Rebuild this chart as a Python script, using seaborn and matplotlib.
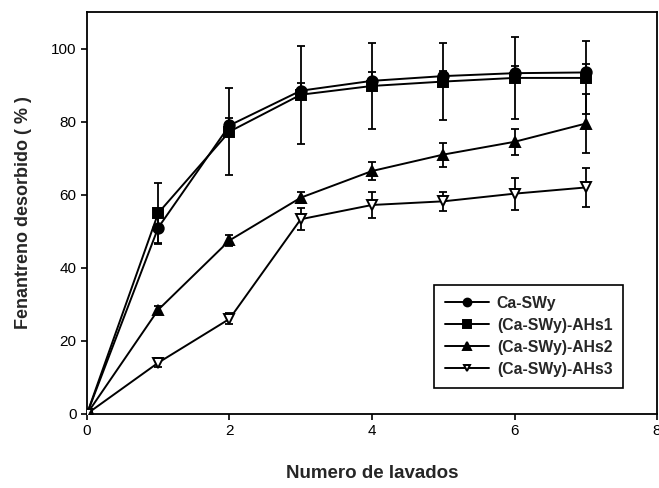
import numpy as np
import pandas as pd
import matplotlib
matplotlib.use("Agg")
import matplotlib.pyplot as plt
import seaborn as sns

sns.set_style("ticks")
plt.rcParams['font.family'] = ['Liberation Sans', 'DejaVu Sans']

lavados = [0, 1, 2, 3, 4, 5, 6, 7]
series_names = ["Ca-SWy", "(Ca-SWy)-AHs1", "(Ca-SWy)-AHs2", "(Ca-SWy)-AHs3"]
ca_swy = [0, 51, 79, 88.5, 91.2, 92.5, 93.3, 93.5]
ca_swy_err = [0, 4.4, 2.0, 2.2, 2.4, 1.5, 2.0, 2.3]
ahs1 = [0, 55, 77.3, 87.4, 89.8, 91.0, 92.0, 92.0]
ahs1_err = [0, 8.3, 12.0, 13.4, 11.7, 10.6, 11.2, 10.0]
ahs2 = [0, 28.5, 47.5, 59.2, 66.5, 71.0, 74.5, 79.5]
ahs2_err = [0, 1.0, 1.6, 1.5, 2.5, 3.3, 3.6, 8.0]
ahs3 = [0, 14.0, 26.0, 53.3, 57.2, 58.2, 60.3, 62.0]
ahs3_err = [0, 1.2, 1.5, 3.0, 3.5, 2.6, 4.4, 5.3]

values = [ca_swy, ahs1, ahs2, ahs3]
errors = [ca_swy_err, ahs1_err, ahs2_err, ahs3_err]
markers = ["o", "s", "^", "v"]
msizes = [7.5, 7.5, 7.5, 6.5]
facecolors = ["black", "black", "black", "white"]

fig = plt.figure(figsize=(6.59, 4.88), dpi=100)
ax = fig.add_axes([0.132, 0.152, 0.865, 0.823])

rows = []
for name, vals in zip(series_names, values):
    for x, v in zip(lavados, vals):
        rows.append({"x": x, "y": v, "serie": name})
df = pd.DataFrame(rows)

for name, vals, err, m, ms, fc in zip(series_names, values, errors, markers, msizes, facecolors):
    sub = df[df["serie"] == name]
    ax.errorbar(lavados, vals, yerr=err, fmt="none", ecolor="black",
                elinewidth=1.3, capsize=3, capthick=1.3, zorder=2)
    sns.lineplot(data=sub, x="x", y="y", ax=ax, color="black", linewidth=1.4,
                 marker=m, markersize=ms,
                 markerfacecolor=fc, markeredgecolor="black", markeredgewidth=1.4,
                 label=name, zorder=3, legend=True)

ax.set_xlim(0, 8)
ax.set_ylim(0, 110)
ax.set_xticks([0, 2, 4, 6, 8])
ax.set_yticks([0, 20, 40, 60, 80, 100])
ax.tick_params(direction="out", length=4, width=1.2, labelsize=11, colors="black")
for s in ax.spines.values():
    s.set_visible(True)
    s.set_linewidth(1.3)
    s.set_color("black")

ax.set_xlabel("Numero de lavados", fontsize=13.5, fontweight="bold", labelpad=19)
ax.set_ylabel("Fenantreno desorbido ( % )", fontsize=13, fontweight="bold", labelpad=14)

leg = ax.legend(loc="lower left", bbox_to_anchor=(0.595, 0.045), frameon=True,
                fancybox=False, framealpha=1, edgecolor="black",
                prop={"weight": "bold", "size": 11.3}, handlelength=2.8,
                handletextpad=0.5, borderpad=0.7, labelspacing=0.45,
                markerscale=0.75)
leg.get_frame().set_linewidth(1.2)

fig.savefig("out.png", dpi=100)
